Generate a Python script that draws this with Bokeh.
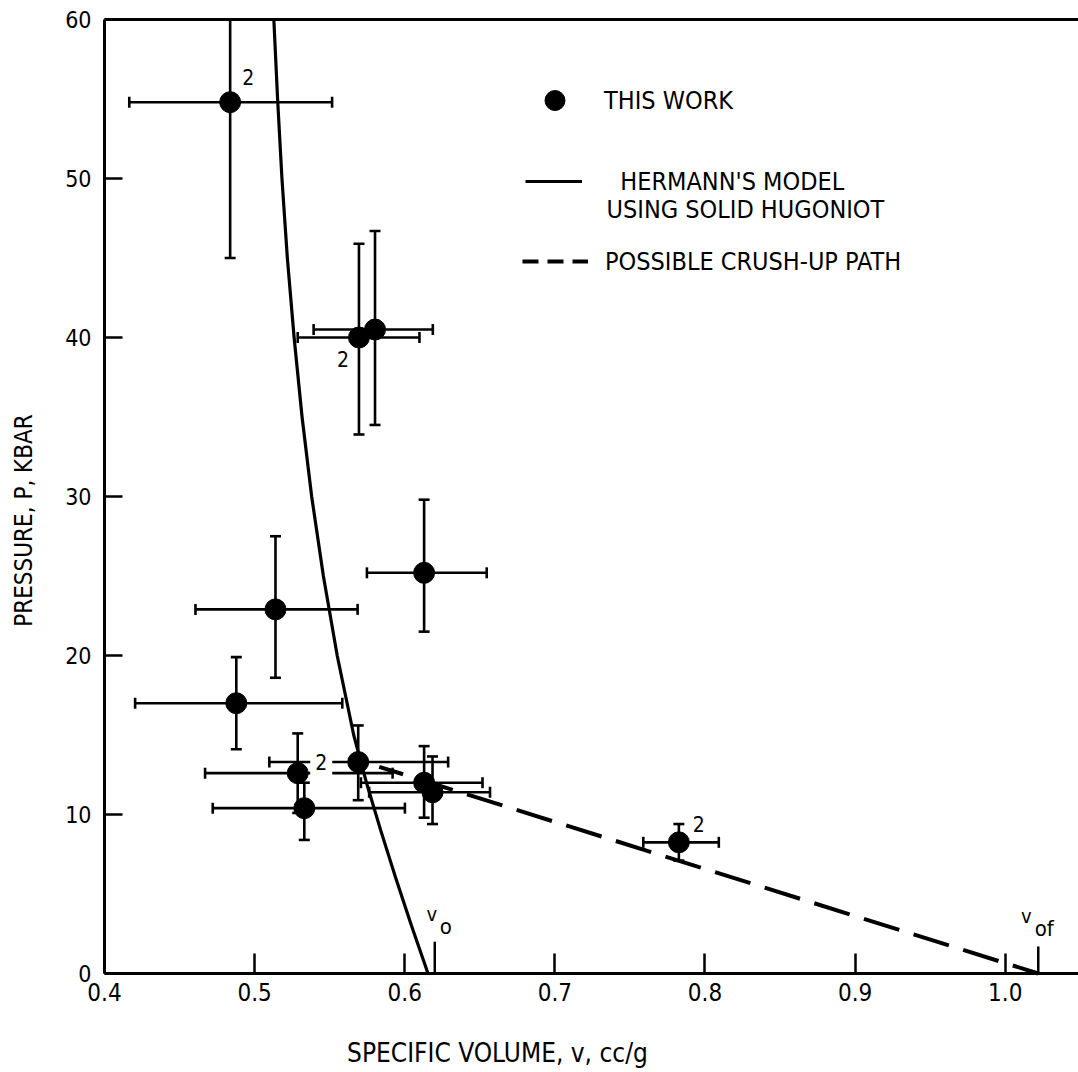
import math
from bokeh.plotting import figure
from bokeh.models import Range1d, FixedTicker, LinearAxis, Label, Legend, LegendItem
from bokeh.embed import file_html
from bokeh.resources import INLINE

# ---------------- data ----------------
spec_vol = [0.4837, 0.5695, 0.5802, 0.5139, 0.4878, 0.6129, 0.5287, 0.5331, 0.5690, 0.6129, 0.6185, 0.7826]
pressure = [54.8, 40.0, 40.5, 22.9, 17.0, 25.2, 12.6, 10.4, 13.3, 12.0, 11.4, 8.25]
vol_lo = [0.4165, 0.5287, 0.5393, 0.4606, 0.4204, 0.5748, 0.4670, 0.4721, 0.5098, 0.5708, 0.5763, 0.7589]
vol_hi = [0.5516, 0.6098, 0.6187, 0.5686, 0.5584, 0.6546, 0.5919, 0.6001, 0.6289, 0.6518, 0.6568, 0.8092]
pres_lo = [45.0, 33.9, 34.5, 18.6, 14.1, 21.5, 10.1, 8.4, 10.9, 9.8, 9.4, 7.1]
pres_hi = [64.6, 45.9, 46.7, 27.5, 19.9, 29.8, 15.1, 12.0, 15.6, 14.3, 13.65, 9.4]
shot_count = [2, 2, 1, 1, 1, 1, 1, 1, 2, 1, 1, 2]

hugoniot_p = [60, 55, 50, 45, 40, 35, 30, 25, 20, 15, 12, 9, 6, 3, 0]
hugoniot_v = [0.5128, 0.5153, 0.5182, 0.5218, 0.5263, 0.5316, 0.5380, 0.5458,
              0.5550, 0.5660, 0.5745, 0.5840, 0.5940, 0.6045, 0.6155]

crush_v = [0.583, 1.022]
crush_p = [13.0, 0.0]

v_marks = [0.620, 1.022]          # v_o and v_of
v_mark_names = [("v", "o"), ("v", "of")]

vol_ticks = [0.4, 0.5, 0.6, 0.7, 0.8, 0.9, 1.0]
vol_tick_labels = ["0.4", "0.5", "0.6", "0.7", "0.8", "0.9", "1.0"]
pres_ticks = [0, 10, 20, 30, 40, 50, 60]
pres_tick_labels = ["0", "10", "20", "30", "40", "50", "60"]

V_MIN, V_MAX = 0.4, 1.0488      # plotted box
P_MIN, P_MAX = 0, 60

# ---------------- styles ----------------
FONT = "'DejaVu Sans Condensed', 'Liberation Sans Narrow', 'DejaVu Sans', sans-serif"
INK = "black"
W, H = 1078, 1072
BOX_L, BOX_T, BOX_B = 104, 19, 973        # pixel edges of the plotted box
px_per_v = (W - BOX_L) / (V_MAX - V_MIN)
px_per_p = (BOX_B - BOX_T) / (P_MAX - P_MIN)

two_offsets = {0: (18, 25), 1: (-16, -21), 8: (-37, 0), 11: (20, 18)}

p = figure(width=W, height=H,
           x_range=Range1d(V_MIN - BOX_L / px_per_v, V_MAX),
           y_range=Range1d(P_MIN - (H - BOX_B) / px_per_p, P_MAX + BOX_T / px_per_p),
           x_axis_location=None, y_axis_location=None,
           output_backend="svg", toolbar_location=None,
           min_border_left=0, min_border_right=0, min_border_top=0, min_border_bottom=0)
p.grid.visible = False
p.outline_line_color = None
p.background_fill_color = "white"
p.border_fill_color = "white"

def style_axis(ax, size):
    ax.axis_line_width = 3
    ax.axis_line_color = INK
    ax.major_tick_line_width = 2.5
    ax.major_tick_line_color = INK
    ax.major_tick_out = 0
    ax.minor_tick_line_color = None
    ax.major_label_text_font = FONT
    ax.major_label_text_font_size = size
    ax.major_label_text_color = INK

xaxis = LinearAxis(fixed_location=P_MIN, bounds=(V_MIN, V_MAX),
                   ticker=FixedTicker(ticks=vol_ticks),
                   major_label_overrides={t: s for t, s in zip(vol_ticks, vol_tick_labels)},
                   major_tick_in=20, major_label_standoff=9)
style_axis(xaxis, "24px")
p.add_layout(xaxis, "below")

yaxis = LinearAxis(fixed_location=V_MIN, bounds=(P_MIN, P_MAX),
                   ticker=FixedTicker(ticks=pres_ticks),
                   major_label_overrides={t: s for t, s in zip(pres_ticks, pres_tick_labels)},
                   major_tick_in=18, major_label_standoff=13)
style_axis(yaxis, "23px")
p.add_layout(yaxis, "left")

top = LinearAxis(fixed_location=P_MAX, bounds=(V_MIN, V_MAX), ticker=FixedTicker(ticks=[]),
                 major_tick_in=0, major_tick_out=0, major_label_text_font_size="0px",
                 axis_line_width=3, axis_line_color=INK, minor_tick_line_color=None)
p.add_layout(top, "above")

# Hugoniot curve
hug = p.line(hugoniot_v, hugoniot_p, line_width=3.2, color=INK, line_join="round")

# crush-up path
crush = p.line(crush_v, crush_p, line_width=4, color=INK, line_dash="37 15", line_dash_offset=12)

# v_o / v_of markers
p.segment(x0=v_marks, y0=[0, 0], x1=v_marks, y1=[2.0, 1.7], line_width=2.5, color=INK)

# error bars (vertical bars are cut at the top of the box)
EB = 2.6
shown_hi = [min(h, P_MAX) for h in pres_hi]
p.segment(x0=vol_lo, y0=pressure, x1=vol_hi, y1=pressure, line_width=EB, color=INK)
p.segment(x0=spec_vol, y0=pres_lo, x1=spec_vol, y1=shown_hi, line_width=EB, color=INK)
cap_x = spec_vol + [v for v, h in zip(spec_vol, pres_hi) if h <= P_MAX]
cap_y = pres_lo + [h for h in pres_hi if h <= P_MAX]
p.scatter(x=cap_x, y=cap_y, marker="dash", size=11, line_width=EB, line_color=INK)
p.scatter(x=vol_lo + vol_hi, y=pressure + pressure, marker="dash", size=11, angle=math.pi / 2,
          line_width=EB, line_color=INK)

# data points
dots = p.scatter(spec_vol, pressure, size=21, color=INK)

# "2" labels
for i, n in enumerate(shot_count):
    if n > 1:
        dx, dy = two_offsets[i]
        kw = {}
        if i == 8:
            kw = dict(background_fill_color="white", padding=5)
        p.add_layout(Label(x=spec_vol[i], y=pressure[i], x_offset=dx, y_offset=dy, text=str(n),
                           text_align="center", text_baseline="middle", text_font=FONT,
                           text_font_size="21px", text_color=INK, **kw))

# v_o, v_of labels
sub_offsets = [((-3, 60), (11, 47)), ((-12, 58), (6, 45))]
for vm, (main, sub), (o1, o2) in zip(v_marks, v_mark_names, sub_offsets):
    p.add_layout(Label(x=vm, y=0, x_offset=o1[0], y_offset=o1[1], text=main, text_align="center",
                       text_baseline="middle", text_font=FONT, text_font_size="20px", text_color=INK))
    p.add_layout(Label(x=vm, y=0, x_offset=o2[0], y_offset=o2[1], text=sub, text_align="center",
                       text_baseline="middle", text_font=FONT, text_font_size="22px", text_color=INK))

# legend-only swatch for the short-dash sample (a single vertex draws nothing in the plot)
proxy = p.line(x=crush_v[:1], y=crush_p[:1], line_width=4, color=INK, line_dash="16 9")

LEG_FS = "25px"

def add_legend(label, renderer, vx, vy, gw, gh, standoff):
    lg = Legend(items=[LegendItem(label=label, renderers=[renderer])], location=(vx, vy),
                glyph_width=gw, glyph_height=gh, label_standoff=standoff, margin=0, padding=0,
                border_line_color=None, background_fill_alpha=0,
                label_text_font=FONT, label_text_font_size=LEG_FS, label_text_color=INK)
    p.add_layout(lg)

add_legend("THIS WORK", dots, 526, H - 125, 57, 50, 21)
add_legend("\u00a0\u00a0HERMANN'S MODEL", hug, 525, H - 201, 57, 40, 24)
add_legend("POSSIBLE CRUSH-UP PATH", proxy, 522, H - 281, 66, 40, 17)
p.add_layout(Label(x=606, y=H - 209.3, x_units="screen", y_units="screen", text="USING SOLID HUGONIOT",
                   text_align="left", text_baseline="middle", text_font=FONT,
                   text_font_size=LEG_FS, text_color=INK))

# axis titles
p.add_layout(Label(x=23, y=H - 520, x_units="screen", y_units="screen", text="PRESSURE, P, KBAR",
                   angle=math.pi / 2, text_align="center", text_baseline="middle",
                   text_font=FONT, text_font_size="24px", text_color=INK))
p.add_layout(Label(x=497, y=H - 1052, x_units="screen", y_units="screen", text="SPECIFIC VOLUME, v, cc/g",
                   text_align="center", text_baseline="middle",
                   text_font=FONT, text_font_size="26px", text_color=INK))

open("out.html", "w").write(file_html(p, INLINE))
